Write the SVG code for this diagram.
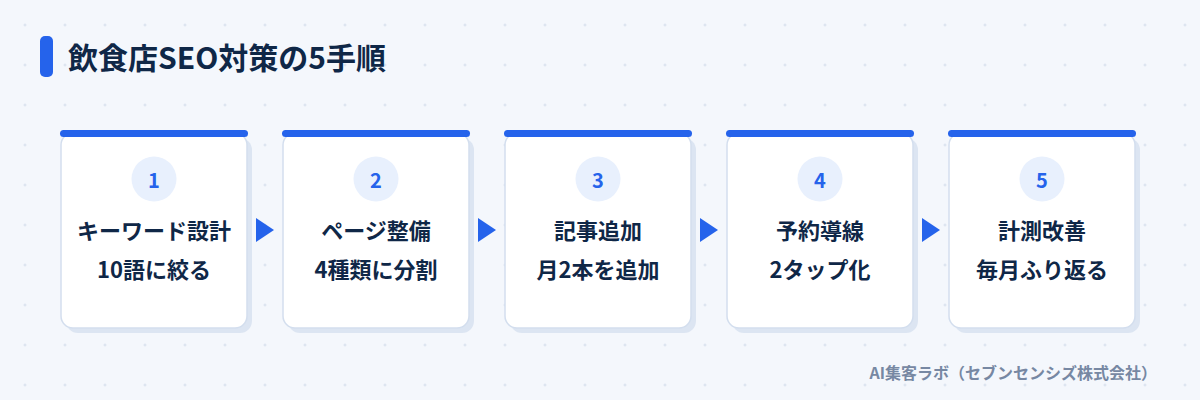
<svg xmlns="http://www.w3.org/2000/svg" width="1200" height="400" viewBox="0 0 1200 400">
<defs>
<pattern id="grid" x="0" y="0" width="40" height="40" patternUnits="userSpaceOnUse">
<path d="M23.5 25H26.5M25 23.5V26.5" stroke="#d6dfec" stroke-width="1"/>
</pattern>
<style>
.t{font-family:"Noto Sans CJK JP","Noto Sans",sans-serif;font-weight:700}
.title{font-size:30px;fill:#0f2747}
.lbl{font-size:22px;fill:#0f2747;text-anchor:middle}
.num{font-size:20px;fill:#2563eb;text-anchor:middle}
.foot{font-size:16px;fill:#7788a3;text-anchor:end}
.shadow{fill:#dce5f2}
.card{fill:#ffffff;stroke:#d3deee;stroke-width:1.5}
.bar{fill:#2563eb}
.circ{fill:#e8f0fd}
.arrow{fill:#2563eb}
</style>
</defs>
<rect width="1200" height="400" fill="#f4f7fc"/>
<rect width="1200" height="400" fill="url(#grid)"/>
<g id="title">
<rect x="40" y="36" width="13" height="41" rx="5" class="bar"/>
<text x="68" y="69" class="t title">飲食店SEO対策の5手順</text>
</g>
<g id="step1">
<rect x="66" y="138" width="186" height="195" rx="12" class="shadow"/>
<rect x="61" y="133" width="186" height="195" rx="12" class="card"/>
<rect x="60" y="130" width="188" height="7" rx="3.5" class="bar"/>
<circle cx="154" cy="179" r="22.5" class="circ"/>
<text x="154" y="188" class="t num">1</text>
<text x="154" y="239" class="t lbl">キーワード設計</text>
<text x="154" y="278" class="t lbl">10語に絞る</text>
</g>
<g id="step2">
<rect x="288" y="138" width="186" height="195" rx="12" class="shadow"/>
<rect x="283" y="133" width="186" height="195" rx="12" class="card"/>
<rect x="282" y="130" width="188" height="7" rx="3.5" class="bar"/>
<circle cx="376" cy="179" r="22.5" class="circ"/>
<text x="376" y="188" class="t num">2</text>
<text x="376" y="239" class="t lbl">ページ整備</text>
<text x="376" y="278" class="t lbl">4種類に分割</text>
</g>
<g id="step3">
<rect x="510" y="138" width="186" height="195" rx="12" class="shadow"/>
<rect x="505" y="133" width="186" height="195" rx="12" class="card"/>
<rect x="504" y="130" width="188" height="7" rx="3.5" class="bar"/>
<circle cx="598" cy="179" r="22.5" class="circ"/>
<text x="598" y="188" class="t num">3</text>
<text x="598" y="239" class="t lbl">記事追加</text>
<text x="598" y="278" class="t lbl">月2本を追加</text>
</g>
<g id="step4">
<rect x="732" y="138" width="186" height="195" rx="12" class="shadow"/>
<rect x="727" y="133" width="186" height="195" rx="12" class="card"/>
<rect x="726" y="130" width="188" height="7" rx="3.5" class="bar"/>
<circle cx="820" cy="179" r="22.5" class="circ"/>
<text x="820" y="188" class="t num">4</text>
<text x="820" y="239" class="t lbl">予約導線</text>
<text x="820" y="278" class="t lbl">2タップ化</text>
</g>
<g id="step5">
<rect x="954" y="138" width="186" height="195" rx="12" class="shadow"/>
<rect x="949" y="133" width="186" height="195" rx="12" class="card"/>
<rect x="948" y="130" width="188" height="7" rx="3.5" class="bar"/>
<circle cx="1042" cy="179" r="22.5" class="circ"/>
<text x="1042" y="188" class="t num">5</text>
<text x="1042" y="239" class="t lbl">計測改善</text>
<text x="1042" y="278" class="t lbl">毎月ふり返る</text>
</g>
<g id="connectors">
<polygon points="256,218 256,242 274,230" class="arrow"/>
<polygon points="478,218 478,242 496,230" class="arrow"/>
<polygon points="700,218 700,242 718,230" class="arrow"/>
<polygon points="922,218 922,242 940,230" class="arrow"/>
</g>
<g id="footer">
<text x="1157" y="379" class="t foot">AI集客ラボ（セブンセンシズ株式会社）</text>
</g>
</svg>
